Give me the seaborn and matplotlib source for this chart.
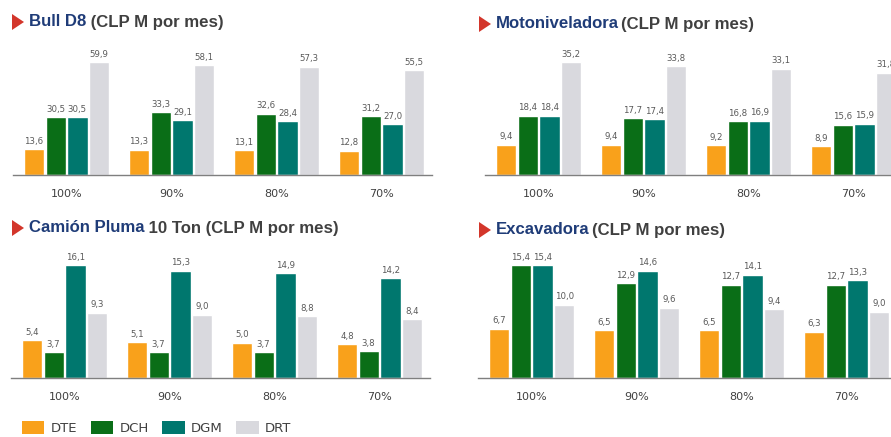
import numpy as np
import pandas as pd
import matplotlib
matplotlib.use("Agg")
import matplotlib.pyplot as plt
import seaborn as sns
from matplotlib.patches import Patch, Polygon

niveles = ["100%", "90%", "80%", "70%"]
series = ["DTE", "DCH", "DGM", "DRT"]
colores = ["#F9A11B", "#0A6E17", "#00776E", "#D9D9DE"]

# Bull D8
bull_dte = [13.6, 13.3, 13.1, 12.8]
bull_dch = [30.5, 33.3, 32.6, 31.2]
bull_dgm = [30.5, 29.1, 28.4, 27.0]
bull_drt = [59.9, 58.1, 57.3, 55.5]

# Motoniveladora
moto_dte = [9.4, 9.4, 9.2, 8.9]
moto_dch = [18.4, 17.7, 16.8, 15.6]
moto_dgm = [18.4, 17.4, 16.9, 15.9]
moto_drt = [35.2, 33.8, 33.1, 31.8]

# Camion Pluma 10 Ton
cam_dte = [5.4, 5.1, 5.0, 4.8]
cam_dch = [3.7, 3.7, 3.7, 3.8]
cam_dgm = [16.1, 15.3, 14.9, 14.2]
cam_drt = [9.3, 9.0, 8.8, 8.4]

# Excavadora
exc_dte = [6.7, 6.5, 6.5, 6.3]
exc_dch = [15.4, 12.9, 12.7, 12.7]
exc_dgm = [15.4, 14.6, 14.1, 13.3]
exc_drt = [10.0, 9.6, 9.4, 9.0]

W, H = 891, 437
AZUL = "#1F3C78"
GRIS = "#404040"
ROJO = "#D3362B"


def armar(dte, dch, dgm, drt):
    return pd.DataFrame({
        "nivel": niveles * 4,
        "serie": np.repeat(series, 4),
        "valor": dte + dch + dgm + drt,
    })


sns.set_theme(style="white")
plt.rcParams["font.family"] = ["DejaVu Sans"]

fig = plt.figure(figsize=(W / 100, H / 100), dpi=100)
fig.patch.set_facecolor("white")


def panel(left, base, datos):
    ax = fig.add_axes([left / W, (H - base) / H, 419 / W, 150 / H])
    sns.barplot(data=datos, x="nivel", y="valor", hue="serie", order=niveles,
                hue_order=series, palette=colores, saturation=1, width=0.83,
                gap=0.07, legend=False, ax=ax)
    ax.set_xlim(-0.51, 3.48)
    ax.set_ylim(0, datos["valor"].max() * 150 / 113)
    for c in ax.containers:
        ax.bar_label(c, labels=[f"{v:.1f}".replace(".", ",") for v in c.datavalues],
                     padding=2.5, fontsize=6.2, color="#595959",
                     bbox=dict(fc="white", ec="none", pad=0.5))
    sns.despine(ax=ax, left=True)
    ax.spines["bottom"].set_color("#7F7F7F")
    ax.spines["bottom"].set_linewidth(1)
    ax.set_facecolor("none")
    ax.set_xlabel("")
    ax.set_ylabel("")
    ax.set_yticks([])
    ax.tick_params(axis="x", length=0, pad=10, labelsize=8, labelcolor="#404040")
    return ax


def titulo(x, y, nombre, resto, sep):
    pts = [[x, y - 8], [x + 12, y], [x, y + 8]]
    fig.add_artist(Polygon([[px / W, 1 - py / H] for px, py in pts],
                           closed=True, transform=fig.transFigure,
                           color=ROJO, lw=0))
    t1 = fig.text((x + 17) / W, 1 - y / H, nombre, color=AZUL, weight="bold",
                  fontsize=12.1, family="Liberation Sans", va="center")
    r = fig.canvas.get_renderer()
    bb = t1.get_window_extent(r)
    fig.text((bb.x1 + sep) / W, 1 - y / H, resto, color=GRIS, weight="bold",
             fontsize=12.1, family="Liberation Sans", va="center")


panel(13, 175, armar(bull_dte, bull_dch, bull_dgm, bull_drt))
panel(485, 175, armar(moto_dte, moto_dch, moto_dgm, moto_drt))
panel(11, 378, armar(cam_dte, cam_dch, cam_dgm, cam_drt))
panel(478, 378, armar(exc_dte, exc_dch, exc_dgm, exc_drt))

titulo(12, 22, "Bull D8", " (CLP M por mes)", 0)
titulo(479, 24, "Motoniveladora", "(CLP M por mes)", 2)
titulo(12, 228, "Camión Pluma", " 10 Ton (CLP M por mes)", 0)
titulo(479, 230, "Excavadora", "(CLP M por mes)", 2)

manijas = [Patch(facecolor=c, edgecolor="none") for c in colores]
fig.legend(manijas, series, ncol=4, loc="center left",
           bbox_to_anchor=(22 / W, 1 - 428 / H), frameon=False,
           fontsize=9.5, labelcolor="#404040", handlelength=1.7,
           handleheight=1.2, handletextpad=0.5, columnspacing=1.0,
           borderpad=0, borderaxespad=0)

fig.savefig("out.png", dpi=100, facecolor="white")
